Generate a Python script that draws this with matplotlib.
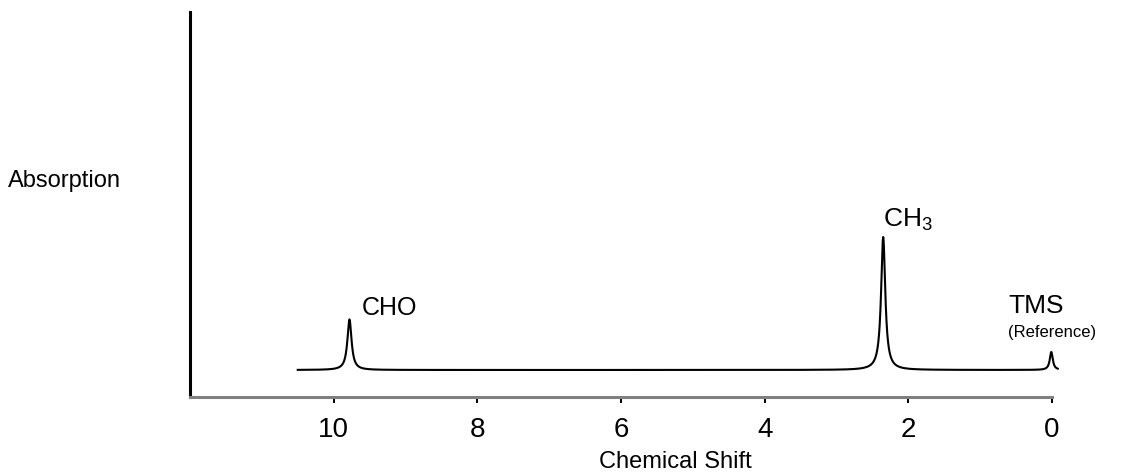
import matplotlib
matplotlib.use("Agg")
import matplotlib.pyplot as plt
import numpy as np

# 1H NMR peaks of acetaldehyde: shift (ppm), relative height, half width (ppm)
peak_labels = ["CHO", "CH3", "TMS"]
peak_shift = [9.78, 2.35, 0.01]
peak_height = [0.38, 1.0, 0.135]
peak_hwhm = [0.035, 0.035, 0.025]

spectrum_start = 10.5
spectrum_end = -0.08
tick_values = [10, 8, 6, 4, 2, 0]

plt.rcParams["font.family"] = ["Liberation Sans", "DejaVu Sans"]
plt.rcParams["mathtext.fontset"] = "custom"
plt.rcParams["mathtext.rm"] = "Liberation Sans"


def spectrum(ppm):
    y = np.zeros_like(ppm)
    for c, h, w in zip(peak_shift, peak_height, peak_hwhm):
        y += h / (1 + ((ppm - c) / w) ** 2)
    return y


ppm = np.linspace(spectrum_start, spectrum_end, 4000)
absorb = spectrum(ppm)

fig = plt.figure(figsize=(11.38, 4.77), dpi=100)
ax = fig.add_axes([190 / 1138, 79 / 477, 862 / 1138, 385 / 477])

ax.plot(ppm, absorb, color="black", lw=1.5, clip_on=False)
ax.set_xlim(12, 0)
ax.set_ylim(-0.203, 2.69)

ax.spines["top"].set_visible(False)
ax.spines["right"].set_visible(False)
ax.spines["left"].set_linewidth(2.2)
ax.spines["left"].set_color("black")
ax.spines["bottom"].set_linewidth(2.2)
ax.spines["bottom"].set_color("#808080")

ax.set_xticks(tick_values)
ax.set_xticklabels([str(t) for t in tick_values])
ax.tick_params(axis="x", direction="out", length=4.5, width=1.4, color="black",
               labelsize=20, pad=9)
ax.set_yticks([])

ax.set_xlabel("Chemical Shift", fontsize=17, va="center")
ax.xaxis.set_label_coords((675 - 190) / 862, -(462 - 398) / 385)
ax.set_ylabel("Absorption", fontsize=17, rotation=0, ha="left", va="center")
ax.yaxis.set_label_coords((8 - 190) / 862, (398 - 181) / 385)

# peak labels
ax.text(9.61, 0.42, "CHO", fontsize=18, ha="left", va="baseline")
ax.text(2.35, 1.083, r"CH$_\mathrm{3}$", fontsize=19, ha="left", va="baseline")
ax.text(0.61, 0.436, "TMS", fontsize=19, ha="left", va="baseline")
ax.text(0.61, 0.256, "(Reference)", fontsize=12, ha="left", va="baseline")

fig.savefig("out.png", dpi=100)
